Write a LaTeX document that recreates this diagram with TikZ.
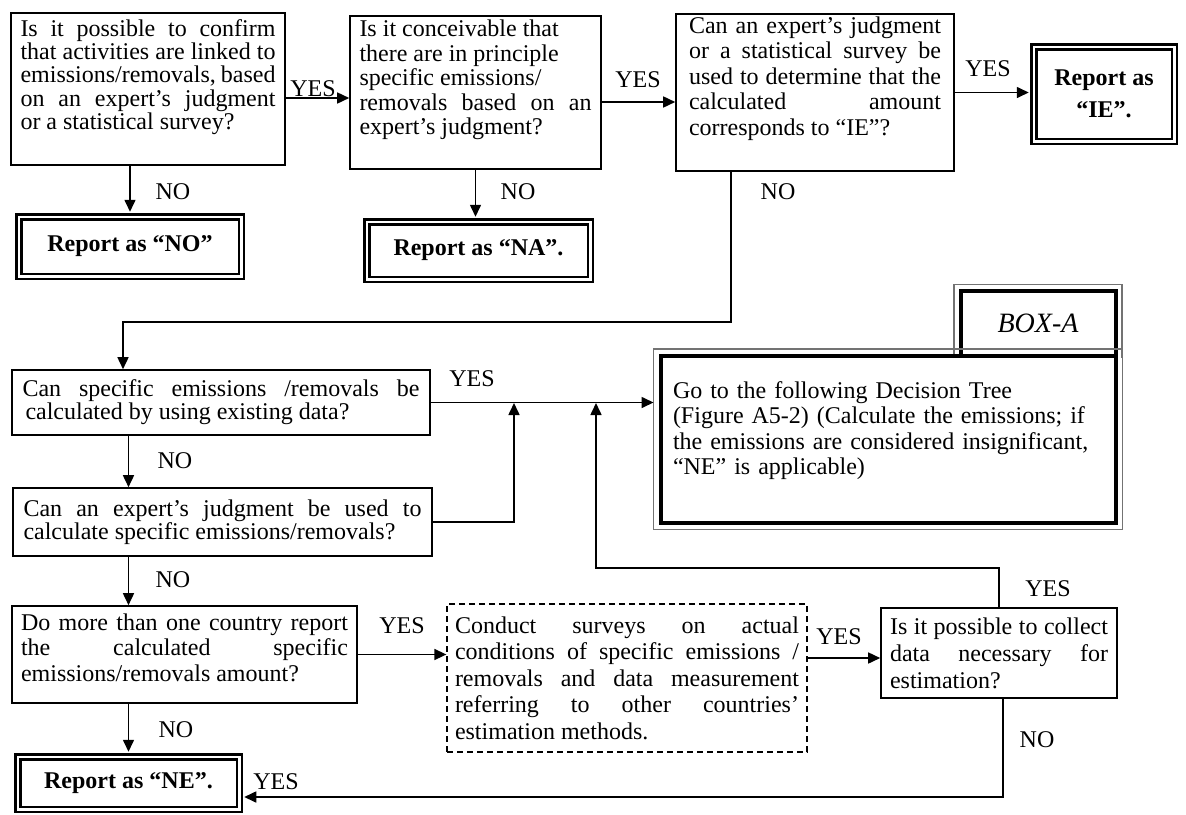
\documentclass[tikz,border=0pt]{standalone}
\usepackage{fontspec}
\setmainfont{Liberation Serif}
\usetikzlibrary{positioning,arrows.meta}
\hyphenpenalty=10000
\exhyphenpenalty=10000
\tolerance=10000

\tikzset{
  >={Triangle[length=12pt,width=11pt]},
  qbox/.style={draw,line width=1.6pt,rectangle,align=justify,inner sep=0pt,
    font=\fontsize{24}{#1}\selectfont},
  qbox/.default=25,
  dashbox/.style={qbox=#1,line width=1.3pt,dash pattern=on 6pt off 4pt},
  reportbox/.style={draw,double=white,line width=2.5pt,double distance=2.5pt,
    align=center,inner sep=0pt,font=\fontsize{24}{32}\selectfont\bfseries},
  treebox/.style={draw,line width=4pt,align=left,inner sep=0pt,
    font=\fontsize{24}{25.5}\selectfont},
  frame/.style={draw=black!55,line width=1.5pt},
  lbl/.style={inner sep=0pt,font=\fontsize{24}{24}\selectfont},
  link/.style={->,line width=1.6pt},
  toreport/.style={link,shorten >=3.75pt}
}

\begin{document}
\begin{tikzpicture}[x=1pt,y=-1pt]
\useasboundingbox (0,0) rectangle (1186,814);

\node[qbox=23.3,text width=255pt,minimum width=274pt,minimum height=152pt] (linked) at (148,89)
  {Is it possible to confirm\linebreak that activities are linked to\linebreak emissions/removals, based\linebreak on an expert’s judgment\linebreak or a statistical survey?\par\kern24pt};
\node[qbox=24.5,text width=232pt,minimum width=251pt,minimum height=153pt] (principle) at (475.5,92.5)
  {Is it conceivable that\\ there are in principle\\ specific emissions/\\ removals based on an\linebreak expert’s judgment?\par\kern25pt};
\node[qbox=25.5,text width=252pt,minimum width=278pt,minimum height=157pt] (included) at (815,92.5)
  {Can an expert’s judgment\linebreak or a statistical survey be\linebreak used to determine that the\linebreak calculated amount\linebreak corresponds to “IE”?\par\kern28pt};

\node[reportbox,minimum width=222.5pt,minimum height=59.5pt] (reportNO) at (130,246.5) {Report as “NO”};
\node[reportbox,minimum width=223.5pt,minimum height=57.5pt] (reportNA) at (478.5,250.5) {Report as “NA”.};
\node[reportbox,minimum width=140.5pt,minimum height=94.5pt] (reportIE) at (1104,94) {Report as\\“IE”.};

\node[qbox=23,text width=397pt,minimum width=418pt,minimum height=65pt] (existing) at (221,402.5)
  {Can specific emissions /removals be\linebreak\hspace*{3pt}calculated by using existing data?};
\node[qbox=23,text width=398pt,minimum width=419pt,minimum height=68pt] (expert) at (222.5,522)
  {Can an expert’s judgment be used to\linebreak calculate specific emissions/removals?};
\node[qbox=25.5,text width=327pt,minimum width=345pt,minimum height=97pt] (other) at (184.5,654.5)
  {Do more than one country report\linebreak the calculated specific\linebreak emissions/removals amount?\par\kern14pt};
\node[reportbox,minimum width=221.5pt,minimum height=52.5pt] (reportNE) at (128.5,783) {Report as “NE”.};

\node[dashbox=26.5,text width=344pt,minimum width=360pt,minimum height=148pt] (survey) at (627,678)
  {Conduct surveys on actual\linebreak conditions of specific emissions /\linebreak removals and data measurement\linebreak referring to other countries’\linebreak estimation methods.};
\node[qbox=27,text width=218pt,minimum width=236pt,minimum height=90pt] (collect) at (999,653)
  {Is it possible to collect\linebreak data necessary for\linebreak estimation?};

\node[treebox,minimum width=155pt,minimum height=65pt,font=\fontsize{28}{28}\selectfont\itshape] (boxA) at (1038,323.5) {BOX-A};
\draw[frame] ([xshift=-4.5pt]boxA.south west) -- ([shift={(-4.5pt,4.5pt)}]boxA.north west)
  -- ([shift={(4.5pt,4.5pt)}]boxA.north east) -- ([xshift=4.5pt]boxA.south east);
\node[treebox,text width=430pt,minimum width=455pt,minimum height=166.5pt] (treeA) at (888,439.25)
  {Go to the following Decision Tree\\ (Figure A5-2) (Calculate the emissions; if\\ the emissions are considered insignificant,\\ “NE” is applicable)\par\kern17pt};
\draw[frame] ([shift={(-5pt,5pt)}]treeA.north west) rectangle ([shift={(5pt,-5pt)}]treeA.south east);

\coordinate (c1) at (731,322);
\coordinate (c2) at (123,322);
\coordinate (j1) at (514,403);
\coordinate (j2) at (596,403);
\coordinate (c3) at (596,568);
\coordinate (c4) at (1003,797);

\draw[link] ([yshift=-9pt]linked.east) -- ([yshift=-9pt]linked.east -| principle.west);
\draw[link] ([yshift=-9.5pt]principle.east) -- ([yshift=-9.5pt]principle.east -| included.west);
\draw[toreport] (included.east) -- (included.east -| reportIE.west);
\draw[toreport] (linked.south -| reportNO.north) -- (reportNO.north);
\draw[toreport] (principle.south) -- (principle.south |- reportNA.north);
\draw[link] (included.south -| c1) -- (c1) -- (c2) -- (c2 |- existing.north);
\draw[link,shorten >=5pt] (existing.east) -- (existing.east -| treeA.west);
\draw[link] (expert.east) -| (j1);
\draw[link] (existing.south -| reportNE.north) -- (expert.north -| reportNE.north);
\draw[link] (expert.south -| reportNE.north) -- (other.north -| reportNE.north);
\draw[toreport] (other.south -| reportNE.north) -- (reportNE.north);
\draw[link] (other.east) -- (other.east -| survey.west);
\draw[link] ([yshift=-5pt]collect.west -| survey.east) -- ([yshift=-5pt]collect.west);
\draw[link] (collect.north) |- (c3) -- (j2);
\draw[toreport] (collect.south -| c4) -- (c4) -- (c4 -| reportNE.east);

\node[lbl] (yes1) at (313,89) {YES};
\node[lbl] (no1) at (173,192) {NO};
\node[lbl] (yes2) at (638,80) {YES};
\node[lbl] (no2) at (518,192) {NO};
\node[lbl] (yes3) at (988,69) {YES};
\node[lbl] (no3) at (778,192) {NO};
\node[lbl] (yes4) at (472,379) {YES};
\node[lbl] (no4) at (175,461) {NO};
\node[lbl] (no5) at (173,580) {NO};
\node[lbl] (yes5) at (402,626) {YES};
\node[lbl] (no6) at (176,730) {NO};
\node[lbl] (yes6) at (839,637) {YES};
\node[lbl] (yes7) at (1048,589) {YES};
\node[lbl] (no7) at (1037,740) {NO};
\node[lbl] (yes8) at (276,782) {YES};
\end{tikzpicture}
\end{document}
